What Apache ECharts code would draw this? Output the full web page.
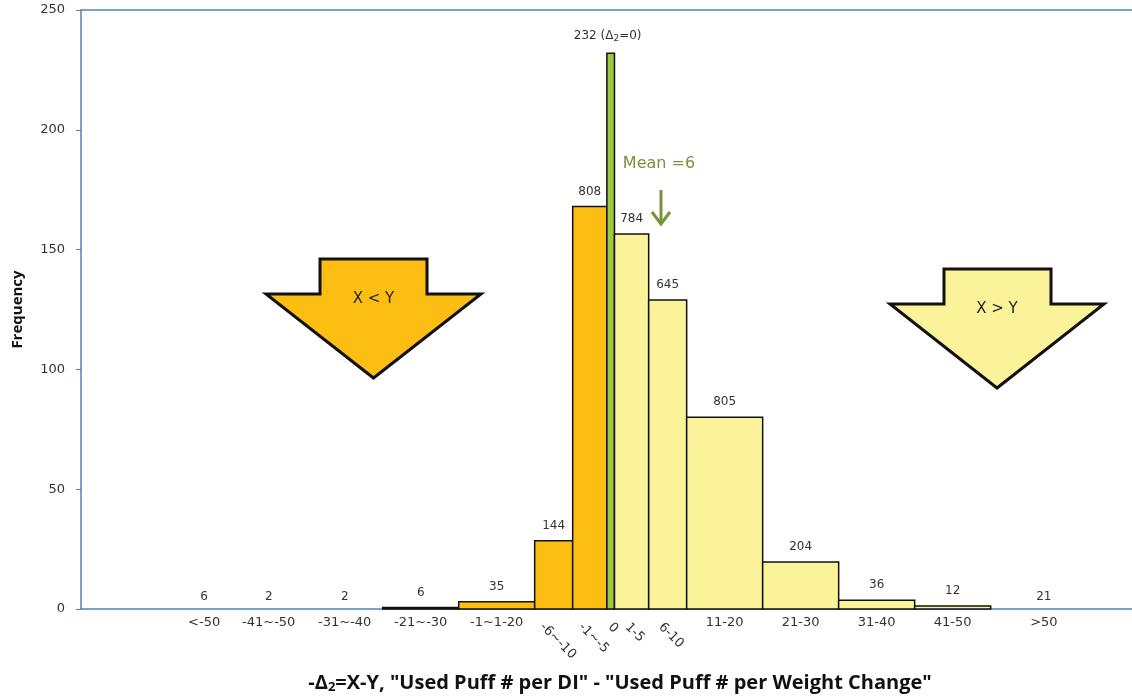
<!DOCTYPE html>
<html>
<head>
<meta charset="utf-8">
<script src="https://cdn.jsdelivr.net/npm/echarts@6/dist/echarts.min.js"></script>
<style>
html,body{margin:0;padding:0;background:#fff;}
#chart{width:1132px;height:696px;}
</style>
</head>
<body>
<div id="chart"></div>
<script>
// ---- data ----
const categories = ['<-50','-41~-50','-31~-40','-21~-30','-1~1-20','-6~-10','-1~-5','0','1-5','6-10','11-20','21-30','31-40','41-50','>50'];
const binStart   = [-57, -50, -40, -30, -20, -10, -5, -0.5, 0.5, 5, 10, 20, 30, 40, 50];
const binEnd     = [-50, -40, -30, -20, -10, -5, -0.5, 0.5, 5, 10, 20, 30, 40, 50, 64];
const heights    = [0, 0, 0, 0.6, 3, 28.5, 168, 232, 156.5, 129, 80, 19.6, 3.6, 1.2, 0];
const counts     = ['6','2','2','6','35','144','808','232','784','645','805','204','36','12','21'];
const yTicks     = [0, 50, 100, 150, 200, 250];

const ORANGE = '#FDBE14', GREEN = '#9BCB3C', YELLOW = '#FAF39A';
const TXT = '#333';
const BLUE = '#4F81BD';

const chart = echarts.init(document.getElementById('chart'), null, {renderer: 'canvas'});

const measureCtx = document.createElement('canvas').getContext('2d');
function textW(t, font) { measureCtx.font = font; return measureCtx.measureText(t).width; }

const data = categories.map((c, i) => [binStart[i], binEnd[i], heights[i], i]);

function renderItem(params, api) {
  const i = api.value(3);
  const s = api.value(0), e = api.value(1), h = api.value(2);
  const p0 = api.coord([s, 0]);
  const p1 = api.coord([e, h]);
  const cx = (p0[0] + p1[0]) / 2;
  const children = [];
  let fill = YELLOW;
  if (e <= -0.5) fill = ORANGE; else if (s < 0 && e > 0) fill = GREEN;
  if (h > 0) {
    children.push({
      type: 'rect',
      shape: {x: p0[0], y: p1[1], width: p1[0] - p0[0], height: p0[1] - p1[1]},
      style: {fill: fill, stroke: '#111', lineWidth: 1.5}
    });
  }
  // count label
  const isZero = (s < 0 && e > 0);
  if (isZero) {
    children.push({
      type: 'text', x: cx - 3, y: p1[1] - 17,
      style: {
        text: counts[i] + ' (Δ{sub|2}=0)',
        rich: {sub: {fontSize: 9, fontFamily: 'DejaVu Sans', fill: TXT, padding: [6, 0, 0, 0]}},
        fontSize: 12, fontFamily: 'DejaVu Sans', fill: TXT, align: 'center', verticalAlign: 'middle'
      }
    });
  } else {
    children.push({
      type: 'text', x: cx, y: p1[1] - (h > 0 ? 15 : 12),
      style: {text: counts[i], fontSize: 12, fontFamily: 'DejaVu Sans', fill: TXT, align: 'center', verticalAlign: 'middle'}
    });
  }
  // category label
  const width = e - s;
  const font = '13px DejaVu Sans';
  if (width < 6) {
    const w = textW(categories[i], font);
    children.push({
      type: 'text', x: cx + 0.05 * w + 2, y: 622 + 0.354 * w + 3, rotation: -Math.PI / 4,
      style: {text: categories[i], fontSize: 13, fontFamily: 'DejaVu Sans', fill: TXT, align: 'center', verticalAlign: 'middle'}
    });
  } else {
    children.push({
      type: 'text', x: cx, y: p0[1] + 14,
      style: {text: categories[i], fontSize: 13, fontFamily: 'DejaVu Sans', fill: TXT, align: 'center', verticalAlign: 'middle'}
    });
  }
  return {type: 'group', children: children};
}

function blockArrow(x1, x2, yTop, yShoulder, hx1, hx2, tipY, fillColor, label) {
  const cx = (hx1 + hx2) / 2;
  return [
    {
      type: 'polygon',
      shape: {points: [[x1, yTop], [x2, yTop], [x2, yShoulder], [hx2, yShoulder], [cx, tipY], [hx1, yShoulder], [x1, yShoulder]]},
      style: {fill: fillColor, stroke: '#111', lineWidth: 3, lineJoin: 'miter'},
      z: 10
    },
    {
      type: 'text', x: cx, y: yShoulder + 5,
      style: {text: label, fontSize: 15, fontFamily: 'DejaVu Sans', fill: '#222', align: 'center', verticalAlign: 'middle'},
      z: 11
    }
  ];
}

const option = {
  animation: false,
  backgroundColor: '#fff',
  grid: {left: 81, right: 0, top: 10, bottom: 87, containLabel: false, outerBoundsMode: 'none'},
  xAxis: [
    {
      type: 'value', min: -69.7, max: 68.6, position: 'bottom',
      axisLine: {show: true, onZero: false, lineStyle: {color: BLUE, width: 1.5}},
      axisTick: {show: false}, axisLabel: {show: false}, splitLine: {show: false}
    },
    {
      type: 'value', min: -69.7, max: 68.6, position: 'top',
      axisLine: {show: true, onZero: false, lineStyle: {color: BLUE, width: 1.5}},
      axisTick: {show: false}, axisLabel: {show: false}, splitLine: {show: false}
    }
  ],
  yAxis: {
    type: 'value', min: yTicks[0], max: yTicks[yTicks.length - 1], interval: 50,
    name: 'Frequency', nameLocation: 'middle', nameRotate: 90, nameGap: 56,
    nameTextStyle: {fontFamily: 'Open Sans', fontWeight: 'bold', fontSize: 15, color: '#111'},
    axisLine: {show: true, onZero: false, lineStyle: {color: BLUE, width: 1.5}},
    axisTick: {show: true, inside: false, length: 5, lineStyle: {color: BLUE}},
    axisLabel: {margin: 16, fontFamily: 'DejaVu Sans', fontSize: 13, color: TXT},
    splitLine: {show: false}
  },
  series: [{
    type: 'custom',
    renderItem: renderItem,
    data: data,
    encode: {x: [0, 1], y: 2},
    clip: false,
    z: 5
  }],
  graphic: [].concat(
    blockArrow(320, 427, 259, 294, 266, 481, 378, ORANGE, 'X < Y'),
    blockArrow(944, 1051, 269, 304, 890, 1104, 388, YELLOW, 'X > Y'),
    [
      {type: 'text', x: 659, y: 164,
       style: {text: 'Mean =6', fontSize: 16, fontFamily: 'DejaVu Sans', fill: '#77933C', align: 'center', verticalAlign: 'middle'}, z: 12},
      {type: 'line', shape: {x1: 661, y1: 190, x2: 661, y2: 222}, style: {stroke: '#77933C', lineWidth: 3}, z: 12},
      {type: 'polyline', shape: {points: [[652, 212], [661, 224], [670, 212]]}, style: {stroke: '#77933C', lineWidth: 3, fill: null}, z: 12},
      {type: 'text', x: 620, y: 683,
       style: {
         text: '-Δ{sub|2}=X-Y, "Used Puff # per DI" - "Used Puff # per Weight Change"',
         rich: {sub: {fontSize: 13, fontFamily: 'Open Sans', fontWeight: 'bold', fill: '#111', padding: [8, 0, 0, 0]}},
         fontSize: 20, fontFamily: 'Open Sans', fontWeight: 'bold', fill: '#111', align: 'center', verticalAlign: 'middle'
       }, z: 12}
    ]
  )
};

chart.setOption(option);
</script>
</body>
</html>
